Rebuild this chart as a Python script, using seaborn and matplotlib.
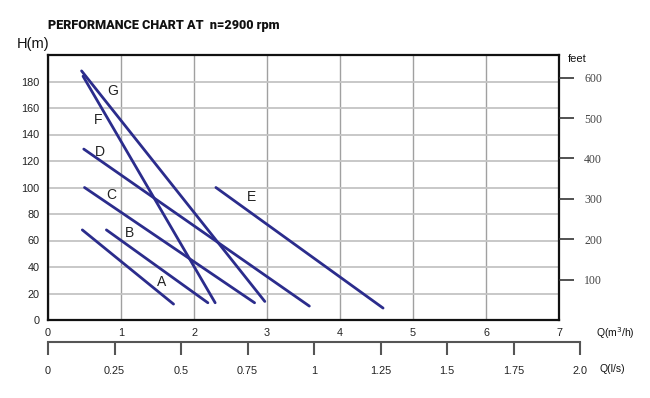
import numpy as np
import pandas as pd
import matplotlib
matplotlib.use("Agg")
import matplotlib.pyplot as plt
import seaborn as sns

# pump models, straight H-Q curves (start / end points)
models = ["A", "B", "C", "D", "E", "F", "G"]
q_start = [0.47, 0.80, 0.50, 0.49, 2.30, 0.48, 0.46]
h_start = [68, 68, 100, 129, 100, 184, 188]
q_end = [1.72, 2.19, 2.83, 3.58, 4.59, 2.29, 2.97]
h_end = [12, 13, 13, 10.5, 9, 13, 14]

# where the model letters sit
label_q = [1.55, 1.11, 0.86, 0.71, 2.79, 0.68, 0.89]
label_h = [29, 66, 94, 127, 93, 151, 173]

q_ticks = [0, 1, 2, 3, 4, 5, 6, 7]
h_ticks = [0, 20, 40, 60, 80, 100, 120, 140, 160, 180]
feet_ticks = [100, 200, 300, 400, 500, 600]
ls_ticks = [0, 0.25, 0.5, 0.75, 1, 1.25, 1.5, 1.75, 2.0]
ls_labels = ["0", "0.25", "0.5", "0.75", "1", "1.25", "1.5", "1.75", "2.0"]

rows = []
for m, qs, hs, qe, he in zip(models, q_start, h_start, q_end, h_end):
    rows.append({"model": m, "Q": qs, "H": hs})
    rows.append({"model": m, "Q": qe, "H": he})
df = pd.DataFrame(rows)

sns.set_style("white")
plt.rcParams["font.family"] = ["Liberation Sans", "DejaVu Sans"]

line_color = "#2b2c8c"

fig = plt.figure(figsize=(6.5, 3.98), dpi=100)
ax = fig.add_axes([48 / 650, 78 / 398, 511 / 650, 265 / 398])

sns.lineplot(data=df, x="Q", y="H", units="model", estimator=None,
             color=line_color, linewidth=2, ax=ax, sort=False)

for m, lq, lh in zip(models, label_q, label_h):
    ax.text(lq, lh, m, fontsize=10, ha="center", va="center", color="#222222")

ax.set_xlim(0, 7)
ax.set_ylim(0, 200)
ax.set_xticks(q_ticks)
ax.set_yticks(h_ticks)
ax.tick_params(axis="both", length=0, labelsize=7.8, pad=6, colors="#222222")
ax.xaxis.grid(True, color="#a0a0a0", linewidth=1)
ax.yaxis.grid(True, color="#c4c4c4", linewidth=1.3)
ax.set_axisbelow(True)
for s in ax.spines.values():
    s.set_color("#111111")
    s.set_linewidth(1.6)
ax.set_xlabel("")
ax.set_ylabel("")

# feet scale on the right
axr = ax.twinx()
axr.set_ylim(0, 200 / 0.3048)
axr.set_yticks(feet_ticks)
axr.tick_params(axis="y", right=True, direction="out", length=11, width=1.2,
                pad=7, labelsize=8.5, colors="#333333")
for lab in axr.get_yticklabels():
    lab.set_family(["Liberation Serif", "DejaVu Serif"])
    lab.set_color("#444444")
for s in axr.spines.values():
    s.set_visible(False)
axr.grid(False)

# l/s scale below
axq = fig.add_axes([48 / 650, 56 / 398, 532 / 650, 0.001])
axq.set_xlim(0, 2.0)
axq.set_xticks(ls_ticks)
axq.set_xticklabels(ls_labels)
axq.set_yticks([])
for side in ["left", "right", "top"]:
    axq.spines[side].set_visible(False)
axq.spines["bottom"].set_color("#555555")
axq.spines["bottom"].set_linewidth(1.5)
axq.tick_params(axis="x", bottom=True, direction="out", length=9, width=1.5,
                labelsize=7.8, pad=8, colors="#555555", labelcolor="#222222")
axq.set_facecolor("none")

fig.text(48 / 650, 1 - 25 / 398, "PERFORMANCE CHART AT  n=2900 rpm",
         fontsize=9.1, fontweight=900, family=["Roboto", "DejaVu Sans"],
         va="center", ha="left", color="#111111")
fig.text(17 / 650, 1 - 44 / 398, "H(m)", fontsize=10.5, va="center", ha="left",
         color="#111111")
fig.text(568 / 650, 1 - 59 / 398, "feet", fontsize=8, va="center", ha="left",
         color="#111111")
fig.text(596 / 650, 1 - 333 / 398, "Q(m$^3$/h)", fontsize=7.5, va="center",
         ha="left", color="#111111")
fig.text(600 / 650, 1 - 369 / 398, "Q(l/s)", fontsize=7.5, va="center",
         ha="left", color="#111111")

fig.savefig("out.png", dpi=100)
